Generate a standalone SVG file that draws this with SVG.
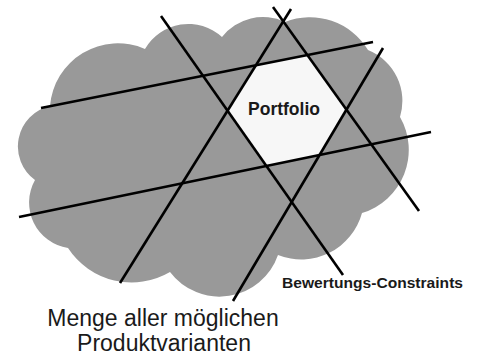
<svg xmlns="http://www.w3.org/2000/svg" width="479" height="355" viewBox="0 0 479 355">
  <style>
    .cloud { fill: #999999; stroke: none; }
    .portfolio { fill: #f7f7f7; stroke: none; }
    .line { stroke: #000000; stroke-width: 2.6; fill: none; stroke-linecap: butt; }
    .bold { font-family: "Liberation Sans", Arial, sans-serif; font-weight: bold; fill: #1a1a1a; }
    .reg { font-family: "Liberation Sans", Arial, sans-serif; fill: #1a1a1a; }
  </style>
  <rect x="0" y="0" width="479" height="355" fill="#ffffff"/>
  <g id="cloud">
    <path class="cloud" d="M50,106 A68,68 0 0 1 145,49 A50,50 0 0 1 222,37 A52,52 0 0 1 285,22 A68,68 0 0 1 368,50 A55,55 0 0 1 400,117 A66,66 0 0 1 362,213 A63,63 0 0 1 278,255 A62,62 0 0 1 170,272 A76,76 0 0 1 68,248 A46,46 0 0 1 35,180 A41.5,41.5 0 0 1 50,106 Z"/>
  </g>
  <g id="portfolio">
    <polygon class="portfolio" points="227.5,110.7 255.9,65.3 307.4,55 346.4,109.5 319.3,155 266.4,166"/>
    <text class="bold" x="284" y="115" font-size="17.5" text-anchor="middle">Portfolio</text>
  </g>
  <g id="connectors">
    <line class="line" x1="41" y1="108" x2="373" y2="42"/>
    <line class="line" x1="19" y1="217" x2="431" y2="132"/>
    <line class="line" x1="161" y1="16" x2="343" y2="275"/>
    <line class="line" x1="120" y1="283" x2="291" y2="9"/>
    <line class="line" x1="273" y1="7" x2="419" y2="211"/>
    <line class="line" x1="383" y1="48" x2="233" y2="301"/>
  </g>
  <g id="label-constraints">
    <text class="bold" x="282" y="288" font-size="15.5" textLength="181" lengthAdjust="spacingAndGlyphs">Bewertungs-Constraints</text>
  </g>
  <g id="label-menge">
    <text class="reg" x="163" y="326" font-size="23" text-anchor="middle">Menge aller möglichen</text>
    <text class="reg" x="164" y="351" font-size="23" text-anchor="middle">Produktvarianten</text>
  </g>
</svg>
